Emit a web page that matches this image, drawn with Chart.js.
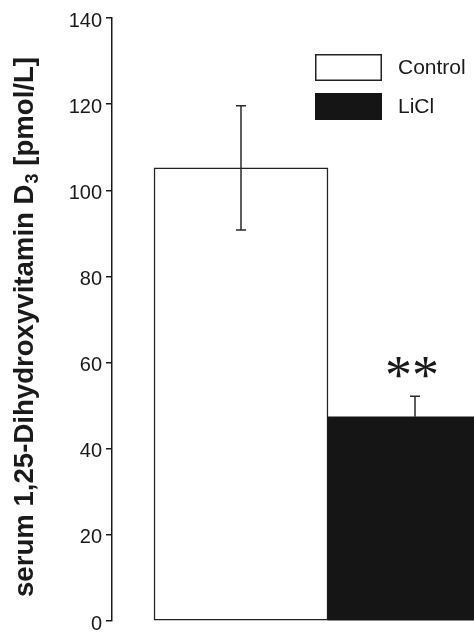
<!DOCTYPE html>
<html><head><meta charset="utf-8">
<script src="https://cdn.jsdelivr.net/npm/chart.js@4.4.0/dist/chart.umd.min.js"></script>
<style>
html,body{margin:0;padding:0;background:#fff;overflow:hidden;width:474px;height:632px}
#wrap{position:relative;width:474px;height:632px;overflow:hidden}
canvas{display:block}
</style></head>
<body><div id="wrap"><canvas id="c" width="556" height="650"></canvas></div>
<script>
const categories = ['Control', 'LiCl'];
const meanValues = [105.2, 47.4];
const semValues = [14.4, 4.8];
const significance = ['', '**'];
const yTicks = [0, 20, 40, 60, 80, 100, 120, 140];
const barColors = ['#ffffff', '#151515'];
const yTitleMain = 'serum 1,25-Dihydroxyvitamin D';
const yTitleSub = '3';
const yTitleUnit = ' [pmol/L]';

const INK = '#1a1a1a';
const SANS = '"Liberation Sans", Arial, Helvetica, sans-serif';

const errorBars = {
  id: 'errorBars',
  afterDatasetsDraw(chart) {
    const {ctx, scales: {y}} = chart;
    const meta = chart.getDatasetMeta(0);
    ctx.save();
    ctx.lineWidth = 1.5;
    ctx.strokeStyle = '#2a2a2a';
    meta.data.forEach((bar, i) => {
      const x = bar.x;
      const yTop = y.getPixelForValue(meanValues[i] + semValues[i]);
      const yMid = y.getPixelForValue(meanValues[i]);
      const yBot = y.getPixelForValue(meanValues[i] - semValues[i]);
      const light = barColors[i] === '#ffffff';
      const cap = 5;
      ctx.beginPath();
      ctx.moveTo(x, yTop); ctx.lineTo(x, light ? yBot : yMid);
      ctx.moveTo(x - cap, yTop); ctx.lineTo(x + cap, yTop);
      if (light) { ctx.moveTo(x - cap, yBot); ctx.lineTo(x + cap, yBot); }
      ctx.stroke();
      if (significance[i]) {
        ctx.font = '54px "Liberation Serif", "Times New Roman", serif';
        ctx.fillStyle = INK;
        ctx.textAlign = 'center';
        ctx.textBaseline = 'alphabetic';
        const m = ctx.measureText(significance[i]);
        const cy = yTop - 29;
        const base = cy + (m.actualBoundingBoxAscent - m.actualBoundingBoxDescent) / 2;
        ctx.fillText(significance[i], x - 3, base);
      }
    });
    ctx.restore();
  }
};

const decorations = {
  id: 'decorations',
  afterDraw(chart) {
    const {ctx, chartArea} = chart;
    ctx.save();
    // y axis title with subscript
    ctx.translate(33, (chartArea.top + chartArea.bottom) / 2 + 8);
    ctx.rotate(-Math.PI / 2);
    ctx.fillStyle = INK;
    ctx.textBaseline = 'alphabetic';
    ctx.textAlign = 'left';
    const mainFont = 'bold 27.6px ' + SANS;
    const subFont = 'bold 18px ' + SANS;
    ctx.font = mainFont;
    const w1 = ctx.measureText(yTitleMain).width;
    const w3 = ctx.measureText(yTitleUnit).width;
    ctx.font = subFont;
    const w2 = ctx.measureText(yTitleSub).width;
    const start = -(w1 + w2 + w3) / 2;
    ctx.font = mainFont;
    ctx.fillText(yTitleMain, start, 0);
    ctx.font = subFont;
    ctx.fillText(yTitleSub, start + w1 + 1, 5);
    ctx.font = mainFont;
    ctx.fillText(yTitleUnit, start + w1 + w2 + 1, 0);
    ctx.restore();

    // legend
    ctx.save();
    const bx = 315, bw = 67, bh = 27, by0 = 54, pitch = 39;
    categories.forEach((c, i) => {
      const by = by0 + i * pitch;
      ctx.fillStyle = barColors[i];
      ctx.fillRect(bx, by, bw, bh);
      ctx.lineWidth = 1.5;
      ctx.strokeStyle = i === 0 ? '#222' : barColors[i];
      ctx.strokeRect(bx + 0.75, by + 0.75, bw - 1.5, bh - 1.5);
      ctx.fillStyle = INK;
      ctx.font = '21px ' + SANS;
      ctx.textAlign = 'left';
      ctx.textBaseline = 'middle';
      ctx.fillText(c, 398, by + bh / 2 + 1);
    });
    ctx.restore();
  }
};

new Chart(document.getElementById('c'), {
  type: 'bar',
  data: {
    datasets: [{
      label: 'serum 1,25-Dihydroxyvitamin D3',
      data: categories.map((c, i) => ({x: i + 1, y: meanValues[i]})),
      backgroundColor: barColors,
      borderColor: ['#222222', '#151515'],
      borderWidth: [1.5, 0],
      borderSkipped: false,
      barPercentage: 1,
      categoryPercentage: 1
    }]
  },
  options: {
    responsive: false,
    animation: false,
    devicePixelRatio: 1,
    layout: {padding: {top: 18, bottom: 29, left: 0, right: 0}},
    plugins: {legend: {display: false}, tooltip: {enabled: false}},
    scales: {
      x: {
        type: 'linear', display: false, offset: false,
        min: 0.2586, max: 0.2586 + 444 / 174,
        ticks: {stepSize: 1, includeBounds: false},
        grid: {display: false, offset: false}
      },
      y: {
        min: 0, max: 140,
        afterBuildTicks: s => { s.ticks = yTicks.map(v => ({value: v})); },
        afterFit: s => { s.width = 112; },
        border: {display: true, color: INK, width: 1.5},
        grid: {display: true, drawOnChartArea: false, drawTicks: true, tickLength: 6, color: INK, lineWidth: 1.5},
        ticks: {font: {family: SANS, size: 20}, color: INK, padding: 4, labelOffset: 3}
      }
    }
  },
  plugins: [errorBars, decorations]
});
</script>
</body></html>
